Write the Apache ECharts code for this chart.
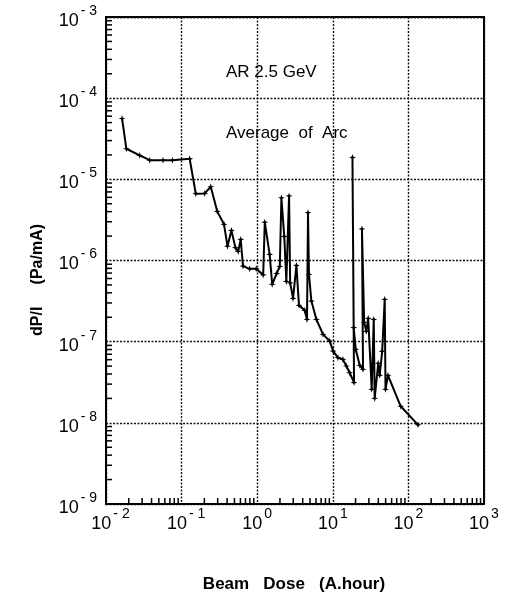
<!DOCTYPE html>
<html>
<head>
<meta charset="utf-8">
<script src="https://cdn.jsdelivr.net/npm/echarts@6/dist/echarts.min.js"></script>
<style>
html,body{margin:0;padding:0;background:#fff;}
#c{width:508px;height:601px;}
</style>
</head>
<body>
<div id="c"></div>
<script>
// ---- data ----
const beamDose = [0.0163,0.0186,0.0279,0.0379,0.0568,0.0755,0.128,0.154,0.202,0.243,
  0.296,0.364,0.404,0.456,0.515,0.561,0.605,0.649,0.796,0.970,
  1.20,1.26,1.46,1.58,1.81,1.99,2.09,2.28,2.43,2.64,
  2.73,2.98,3.30,3.57,4.25,4.56,4.70,4.84,5.21,6.07,
  7.42,9.10,10.1,11.7,13.6,15.1,16.7,19.1,18.2,18.9,
  20.1,22.7,25.1,24.3,26.0,27.7,29.4,32.7,34.8,35.8,
  39.9,41.7,45.0,48.6,49.8,53.7,79.1,134];
const dPI = [5.62e-5,2.38e-5,1.97e-5,1.72e-5,1.72e-5,1.72e-5,1.79e-5,6.65e-6,6.70e-6,8.11e-6,
  4.03e-6,2.79e-6,1.50e-6,2.35e-6,1.44e-6,1.29e-6,1.82e-6,8.53e-7,7.89e-7,7.89e-7,
  6.65e-7,2.97e-6,1.19e-6,5.08e-7,6.93e-7,8.45e-7,5.93e-6,1.98e-6,5.53e-7,6.25e-6,
  5.30e-7,3.41e-7,8.70e-7,2.80e-7,2.43e-7,1.88e-7,3.88e-6,6.74e-7,3.16e-7,1.88e-7,
  1.23e-7,1.02e-7,7.65e-8,6.35e-8,6.05e-8,5.01e-8,4.15e-8,3.13e-8,1.86e-5,1.49e-7,
  8.04e-8,5.11e-8,4.56e-8,2.45e-6,1.73e-7,1.34e-7,1.94e-7,2.59e-8,1.88e-7,2.00e-8,
  5.41e-8,3.85e-8,7.60e-8,3.32e-7,2.59e-8,3.85e-8,1.60e-8,9.44e-9];
const xDecades = [0.01,0.1,1,10,100,1000];
const xTickSup = ['- 2','- 1','0','1','2','3'];
const yDecades = [1e-9,1e-8,1e-7,1e-6,1e-5,1e-4,1e-3];
const yTickSup = ['- 9','- 8','- 7','- 6','- 5','- 4','- 3'];
const title1 = 'AR 2.5 GeV';
const title2 = 'Average  of  Arc';
const xName = 'Beam   Dose   (A.hour)';
const yName = 'dP/I     (Pa/mA)';

// ---- derived ----
const FONT = "'Liberation Sans', Arial, Helvetica, sans-serif";
const seriesData = beamDose.map((x,i)=>[x,dPI[i]]);
function minorOf(decades){
  const out=[];
  for(let k=0;k<decades.length-1;k++){
    for(let m=2;m<=9;m++) out.push(decades[k]*m);
  }
  return out;
}
const xMinor = minorOf(xDecades);
const yMinor = minorOf(yDecades);
const xMin = xDecades[0], xMax = xDecades[xDecades.length-1];
const yMin = yDecades[0], yMax = yDecades[yDecades.length-1];
function supIndex(decades,v){
  const e = Math.round(Math.log10(v));
  return decades.findIndex(d=>Math.round(Math.log10(d))===e);
}
const richLab = {
  s:{width:9,lineHeight:26},
  a:{fontSize:18,fontFamily:FONT,color:'#000',verticalAlign:'bottom',lineHeight:26},
  b:{fontSize:14,fontFamily:FONT,color:'#000',verticalAlign:'top',lineHeight:26,padding:[0,0,0,2]}
};
const splitStyle = {show:true,lineStyle:{color:'#111',type:[2,1.5],width:1.4}};
const star = 'path://M0,-5 L1.2,-1.2 L5,0 L1.2,1.2 L0,5 L-1.2,1.2 L-5,0 L-1.2,-1.2 Z';

const chart = echarts.init(document.getElementById('c'),null,{renderer:'canvas'});
chart.setOption({
  backgroundColor:'#fff',
  animation:false,
  grid:{left:106,top:17,right:24,bottom:97,show:true,borderColor:'#000',borderWidth:2,backgroundColor:'transparent'},
  xAxis:{
    type:'log',logBase:10,min:xMin,max:xMax,splitNumber:5,
    axisLine:{show:true,lineStyle:{color:'#000',width:2}},
    axisTick:{show:false},
    splitLine:splitStyle,
    axisLabel:{margin:3,color:'#000',
      formatter:v=>{const i=supIndex(xDecades,v);if(i<0)return '';
        const sup=xTickSup[i];return (sup.length>1?'{s|}':'')+'{a|10}{b|'+sup+'}';},
      rich:richLab}
  },
  yAxis:{
    type:'log',logBase:10,min:yMin,max:yMax,splitNumber:6,
    axisLine:{show:true,lineStyle:{color:'#000',width:2}},
    axisTick:{show:false},
    splitLine:splitStyle,
    axisLabel:{margin:9,color:'#000',
      formatter:v=>{const i=supIndex(yDecades,v);return i<0?'':'{a|10}{b|'+yTickSup[i]+'}';},
      rich:richLab}
  },
  series:[
    {type:'line',data:seriesData,symbol:star,symbolSize:7,showSymbol:true,
     lineStyle:{color:'#000',width:2},itemStyle:{color:'#000'},z:5},
    {type:'custom',data:xMinor.map(v=>[v,yMin]),clip:false,z:6,
     renderItem:(p,api)=>{const c=api.coord([api.value(0),yMin]);
       return {type:'line',shape:{x1:c[0],y1:c[1],x2:c[0],y2:c[1]-6},style:{stroke:'#000',lineWidth:1.5}};}},
    {type:'custom',data:yMinor.map(v=>[xMin,v]),clip:false,z:6,
     renderItem:(p,api)=>{const c=api.coord([xMin,api.value(1)]);
       return {type:'line',shape:{x1:c[0],y1:c[1],x2:c[0]+6,y2:c[1]},style:{stroke:'#000',lineWidth:1.5}};}}
  ],
  graphic:[
    {type:'text',x:226,y:72,style:{text:title1,font:'17px '+FONT,fill:'#000',verticalAlign:'middle'}},
    {type:'text',x:226,y:133,style:{text:title2,font:'17px '+FONT,fill:'#000',verticalAlign:'middle'}},
    {type:'text',x:294,y:584,style:{text:xName,font:'bold 17px '+FONT,fill:'#000',align:'center',verticalAlign:'middle'}},
    {type:'text',x:38,y:280,rotation:Math.PI/2,style:{text:yName,font:'bold 16px '+FONT,fill:'#000',align:'center',verticalAlign:'middle'}}
  ]
});
</script>
</body>
</html>
